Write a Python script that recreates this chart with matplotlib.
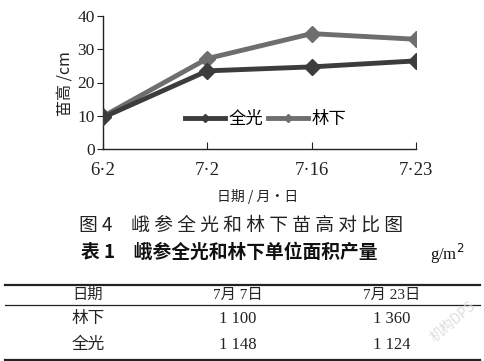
import matplotlib
matplotlib.use("Agg")
import matplotlib.pyplot as plt
from matplotlib.lines import Line2D

dates = ["6·2", "7·2", "7·16", "7·23"]
full_light = [9.5, 23.5, 24.7, 26.5]
full_light_err = [1.0, 0.8, 1.2, 0.6]
under_forest = [9.8, 27.2, 34.7, 33.0]
under_forest_err = [1.2, 1.3, 1.3, 0.6]
series_names = ["全光", "林下"]

table_header = ["日期", "7月 7日", "7月 23日"]
table_rows = [["林下", "1 100", "1 360"], ["全光", "1 148", "1 124"]]

W, H = 484, 361
fig = plt.figure(figsize=(W / 100, H / 100), dpi=100)
fig.patch.set_facecolor("white")

serif = ["Liberation Serif", "Noto Sans CJK SC"]
cjk = ["Noto Sans CJK SC", "DejaVu Sans"]

def fx(px):
    return px / W

def fy(py):
    return 1 - py / H

ax = fig.add_axes([fx(103), fy(149), fx(416) - fx(103), fy(16) - fy(149)])
x = list(range(len(dates)))
c1, c2 = "#3c3c3c", "#6e6e6e"
ax.errorbar(x, under_forest, yerr=under_forest_err, color=c2, lw=3.5, marker="D",
            ms=8, capsize=2, elinewidth=1.2, ecolor="#333333", zorder=2)
ax.errorbar(x, full_light, yerr=full_light_err, color=c1, lw=3.5, marker="D",
            ms=8, capsize=2, elinewidth=1.2, ecolor="#222222", zorder=3)
ax.set_xlim(0, 3)
ax.set_ylim(0, 40)
ax.set_yticks([0, 10, 20, 30, 40])
ax.set_xticks(x)
ax.set_xticklabels(dates, fontfamily=serif, fontsize=13.5)
for lab in ax.get_yticklabels():
    lab.set_fontfamily(serif)
    lab.set_fontsize(12.5)
ax.spines["top"].set_visible(False)
ax.spines["right"].set_visible(False)
for s in ["left", "bottom"]:
    ax.spines[s].set_color("#222222")
    ax.spines[s].set_linewidth(1.0)
ax.tick_params(axis="x", direction="in", length=5, pad=9, colors="#222222")
ax.tick_params(axis="y", direction="out", length=4, pad=2, colors="#222222")
ax.set_facecolor("none")

handles = [Line2D([], [], color=c1, lw=3.5, marker="D", ms=4),
           Line2D([], [], color=c2, lw=3.5, marker="D", ms=4)]
leg = ax.legend(handles, series_names, loc="center", bbox_to_anchor=(0.52, 0.225),
                ncol=2, frameon=False, prop={"family": cjk, "size": 12.5},
                handlelength=2.3, handletextpad=0.2, columnspacing=0.3)

fig.text(fx(66), fy(84), "苗高 /cm", rotation=90, ha="center", va="center",
         fontsize=11.5, family=cjk, color="#222222")
fig.text(fx(258), fy(197), "日期 / 月·日", ha="center", va="center",
         fontsize=10, family=cjk, color="#222222")

fig.text(fx(241), fy(225), "图 4　峨 参 全 光 和 林 下 苗 高 对 比 图", ha="center", va="center",
         fontsize=13.5, family=cjk, color="#222222")
fig.text(fx(229), fy(252), "表 1　峨参全光和林下单位面积产量", ha="center", va="center",
         fontsize=13.5, family=cjk, weight="bold", color="#111111")
fig.text(fx(447), fy(254), "g/m$^2$", ha="center", va="center",
         fontsize=12, family=serif, color="#111111")

# table lines
fig.add_artist(Line2D([fx(5), fx(480)], [fy(285), fy(285)], color="#222222", lw=1.6))
fig.add_artist(Line2D([fx(5), fx(480)], [fy(305), fy(305)], color="#222222", lw=0.9))
fig.add_artist(Line2D([fx(5), fx(480)], [fy(359.5), fy(359.5)], color="#222222", lw=1.6))

col_x = [fx(72), fx(238), fx(392)]
col_ha = ["left", "center", "center"]
row_y = [fy(295), fy(319), fy(345)]
for j, txt in enumerate(table_header):
    fig.text(col_x[j], row_y[0], txt, ha=col_ha[j], va="center", fontsize=11,
             family=["Liberation Serif", "Noto Sans CJK SC"], color="#222222")
for i, row in enumerate(table_rows):
    for j, txt in enumerate(row):
        fig.text(col_x[j], row_y[i + 1], txt, ha=col_ha[j], va="center", fontsize=12,
                 family=["Liberation Serif", "Noto Sans CJK SC"], color="#222222")

fig.text(fx(453), fy(322), "机构DPS", rotation=40, ha="center", va="center",
         fontsize=10, family=cjk, color="#dddddd")

fig.savefig("out.png", dpi=100, facecolor="white")
